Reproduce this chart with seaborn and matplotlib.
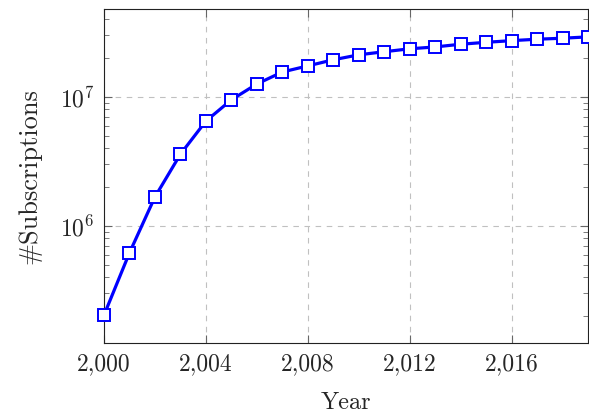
import matplotlib
matplotlib.use("Agg")
import matplotlib.pyplot as plt
import matplotlib.ticker as mticker
import seaborn as sns
import pandas as pd

years = list(range(2000, 2020))
subscriptions = [2.04e5, 6.2e5, 1.68e6, 3.6e6, 6.5e6, 9.5e6, 1.26e7, 1.56e7,
                 1.74e7, 1.94e7, 2.12e7, 2.24e7, 2.36e7, 2.44e7, 2.56e7,
                 2.65e7, 2.73e7, 2.80e7, 2.85e7, 2.92e7]
x_ticks = [2000, 2004, 2008, 2012, 2016]

df = pd.DataFrame({"Year": years, "Subscriptions": subscriptions})

sns.set_theme(style="ticks")
plt.rcParams["font.family"] = ["cmr10", "DejaVu Serif"]
plt.rcParams["mathtext.fontset"] = "cm"
plt.rcParams["axes.formatter.use_mathtext"] = True
plt.rcParams["axes.unicode_minus"] = False

fig = plt.figure(figsize=(5.89, 4.19), dpi=100)
ax = fig.add_axes([0.1766, 0.1814, 0.8217, 0.7971])

sns.lineplot(data=df, x="Year", y="Subscriptions", ax=ax, color="#0000ff",
             linewidth=2.3, marker="s", markersize=8.5, markerfacecolor="white",
             markeredgecolor="#0000ff", markeredgewidth=1.4, zorder=3,
             clip_on=False)

ax.set_yscale("log")
ax.set_xlim(2000, 2019)
ax.set_ylim(1.24e5, 4.8e7)
ax.set_xticks(x_ticks)
ax.xaxis.set_major_formatter(mticker.FuncFormatter(lambda v, p: f"{int(v):,}"))
ax.yaxis.set_major_locator(mticker.LogLocator(base=10, numticks=10))
ax.yaxis.set_minor_locator(mticker.LogLocator(base=10, subs=range(2, 10), numticks=10))
ax.yaxis.set_minor_formatter(mticker.NullFormatter())

ax.grid(True, which="major", linestyle=(0, (5, 5)), color="#c0c0c0", linewidth=0.8)
ax.tick_params(which="both", direction="in", top=True, right=True,
               labelsize=17, color="#666666")
ax.tick_params(which="major", length=6, width=0.8)
ax.tick_params(which="minor", length=3.5, width=0.6)
ax.tick_params(axis="x", pad=7)
ax.tick_params(axis="y", pad=7)
for s in ax.spines.values():
    s.set_color("#222222")
    s.set_linewidth(0.8)

ax.set_xlabel("Year", fontsize=17.5, labelpad=12)
ax.set_ylabel("#Subscriptions", fontsize=19, labelpad=13)

fig.savefig("out.png", dpi=100)
